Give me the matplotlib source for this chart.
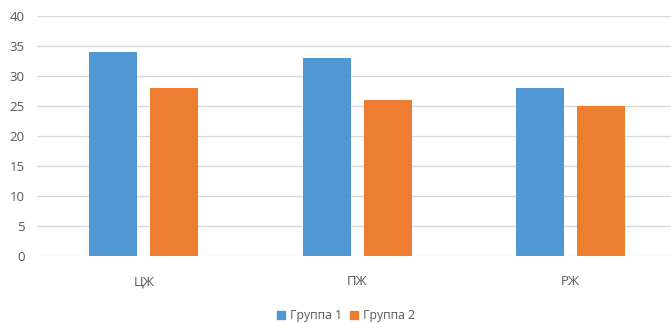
import numpy as np
import matplotlib
matplotlib.use("Agg")
import matplotlib.pyplot as plt
from matplotlib.patches import Patch

plt.rcParams['font.family'] = ['Open Sans', 'DejaVu Sans']

# Данные
categories = ['ЦЖ', 'ПЖ', 'РЖ']
group1 = [34, 33, 28]
group2 = [28, 26, 25]
series_names = ['Группа 1', 'Группа 2']
colors = ['#5097D3', '#ED7D31']

fig = plt.figure(figsize=(6.71, 3.23), dpi=100)
ax = fig.add_axes([37 / 671, 1 - 256 / 323, 1 - 37 / 671, 240 / 323])

x = np.arange(len(categories))
w = 0.2246
off = 0.1427
ax.bar(x - off, group1, width=w, color=colors[0], zorder=3)
ax.bar(x + off, group2, width=w, color=colors[1], zorder=3)

ax.set_xlim(-0.5, 2.47)
ax.set_ylim(0, 40)
ax.set_yticks(range(0, 41, 5))
ax.set_xticks(x)
ax.set_xticklabels(categories)

ax.grid(axis='y', color='#D9D9D9', linewidth=1, zorder=0)
for s in ax.spines.values():
    s.set_visible(False)
ax.tick_params(axis='both', length=0, colors='#595959', labelsize=9.5)
ax.tick_params(axis='y', pad=9)
ax.tick_params(axis='x', pad=14)

handles = [Patch(color=c, label=n) for c, n in zip(colors, series_names)]
leg = fig.legend(handles=handles, loc='center', bbox_to_anchor=(346 / 671, 1 - 316 / 323),
                 ncol=2, frameon=False, fontsize=8.8, handlelength=0.6, handleheight=0.6,
                 handletextpad=0.4, columnspacing=0.7)
for t in leg.get_texts():
    t.set_color('#595959')

fig.savefig('out.png', dpi=100)
